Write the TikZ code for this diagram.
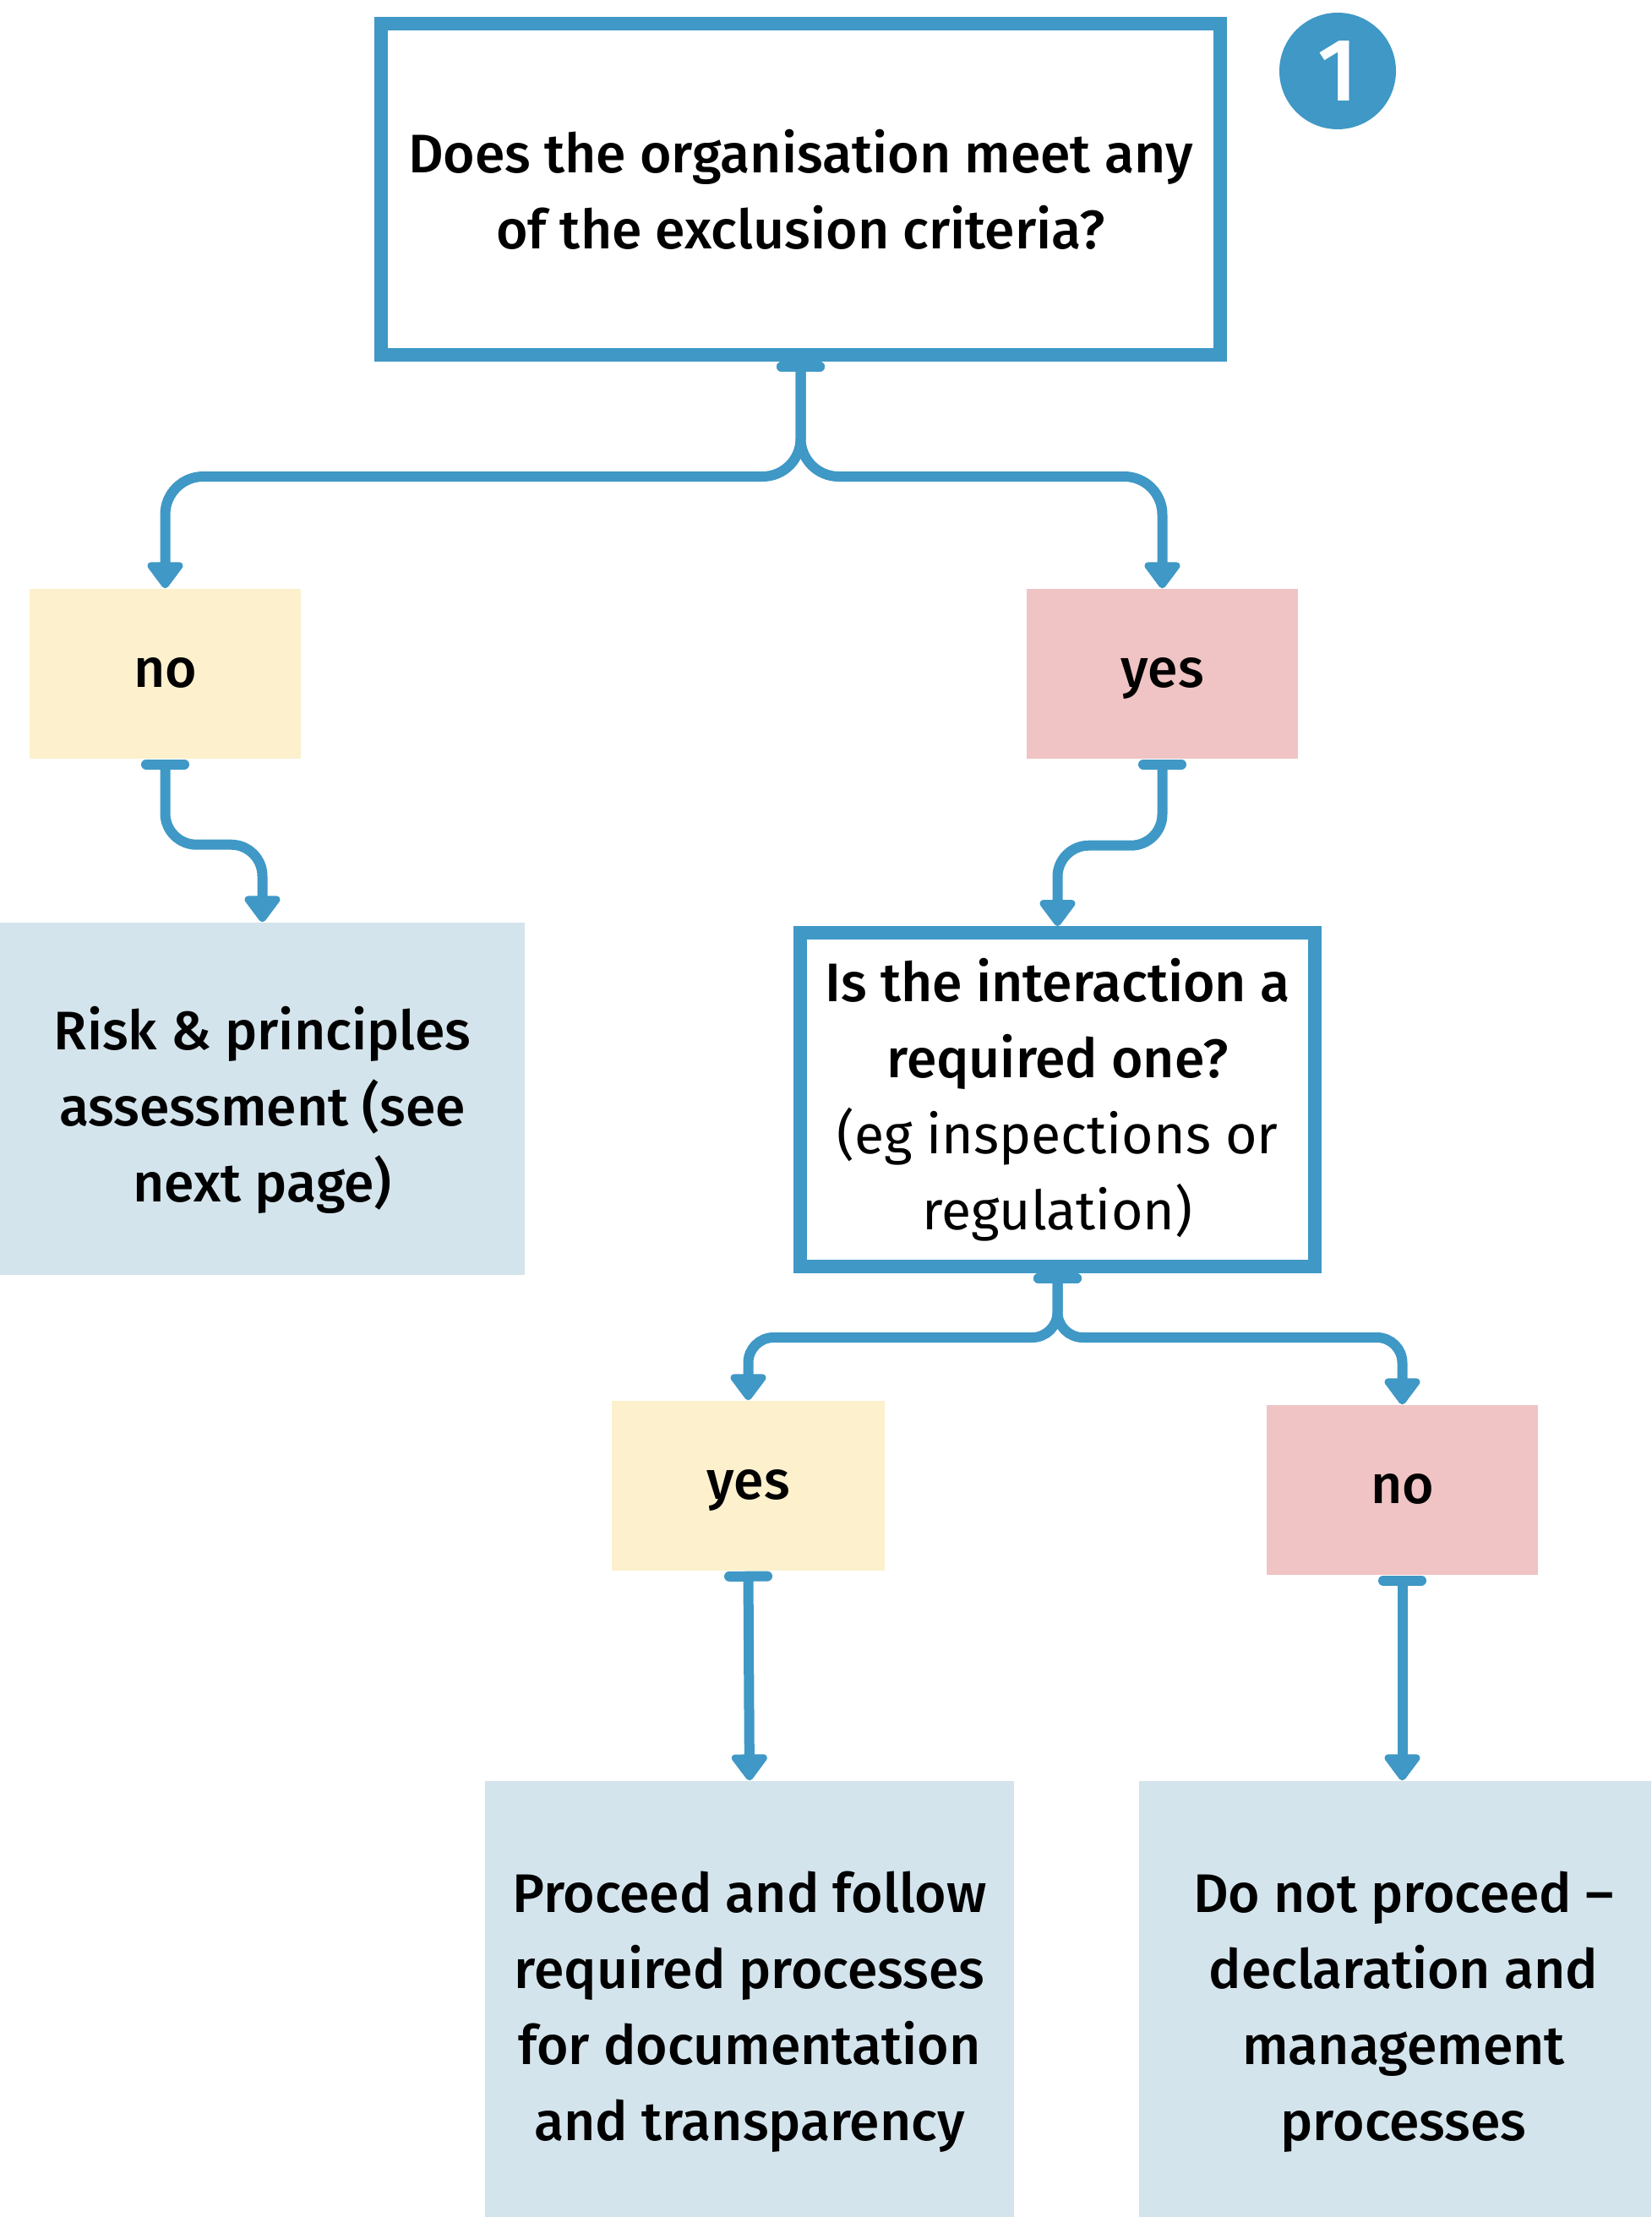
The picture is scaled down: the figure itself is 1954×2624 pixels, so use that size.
\documentclass[tikz,border=0pt]{standalone}
\usepackage{fontspec}
\setmainfont{Fira Sans}[BoldFont={Fira Sans Medium}]
\usetikzlibrary{arrows.meta}

\definecolor{flowblue}{HTML}{3F98C5}
\definecolor{noyellow}{HTML}{FCF0CD}
\definecolor{yespink}{HTML}{F0C4C4}
\definecolor{outcomeblue}{HTML}{D4E4EC}

\newcommand{\boxfont}{\fontsize{18.3}{25.6}\selectfont}

\tikzset{
    question/.style={draw=flowblue, line width=1.6mm, fill=white, align=center, inner sep=0pt, font=\boxfont},
    answer/.style={minimum width=32.1mm, minimum height=20.1mm, inner sep=0pt, text height=2.2ex, text depth=0.5ex, font=\boxfont\bfseries},
    outcome/.style={fill=outcomeblue, inner sep=0pt},
    outcometext/.style={align=center, inner sep=0pt, font=\boxfont\bfseries},
    flow/.style={draw=flowblue, line width=1.2mm, arrows={Bar[width=4.5mm,round]-Triangle[width=4.8mm,length=3.4mm,round]}}
}

\begin{document}
\begin{tikzpicture}[x=0.1mm, y=-0.1mm]
            \useasboundingbox (0,0) rectangle (1954,2624);

            \node[question, minimum width=99.3mm, minimum height=39.2mm, font=\boxfont\bfseries] (q1) at (947.5,224)
                {Does the organisation meet any\\of the exclusion criteria?};
            \node[circle, fill=flowblue, minimum size=13.8mm, inner sep=0pt, text=white, font=\fontsize{30}{30}\selectfont\bfseries] (num) at (1583,84) {1};

            \node[answer, fill=noyellow] (no1) at (195.5,797.5) {no};
            \node[answer, fill=yespink] (yes1) at (1375.5,797.5) {yes};

            \node[outcome, minimum width=62.1mm, minimum height=41.7mm] (risk) at (310.5,1300.5) {};
            \node[outcometext] (risktext) at ([yshift=-1.3mm]risk.center)
                {Risk \& principles\\assessment (see\\next page)};
            \node[question, minimum width=60.9mm, minimum height=39.5mm] (q2) at (1251.5,1301.5)
                {\textbf{Is the interaction a}\\\textbf{required one?}\\(eg inspections or\\regulation)};

            \node[answer, fill=noyellow, minimum width=32.3mm] (yes2) at (885.5,1758.5) {yes};
            \node[answer, fill=yespink] (no2) at (1659.5,1763.5) {no};

            \node[outcome, minimum width=62.6mm, minimum height=52.6mm] (follow) at (887,2371) {};
            \node[outcometext] (followtext) at ([yshift=-1mm]follow.center)
                {Proceed and follow\\required processes\\for documentation\\and transparency};
            \node[outcome, minimum width=60.6mm, minimum height=52.6mm] (stop) at (1651,2371) {};
            \node[outcometext] (stoptext) at ([xshift=1mm, yshift=-1mm]stop.center)
                {Do not proceed --\\declaration and\\management\\processes};

            \coordinate (split1) at (q1.south |- 0,564);
            \coordinate (split2) at (q2.south |- 0,1583);

            \draw[flow, rounded corners=4.5mm] (q1.south) -- (split1) -| (no1.north);
            \draw[flow, rounded corners=4.5mm] (q1.south) -- (split1) -| (yes1.north);
            \draw[flow, rounded corners=3.7mm] (no1.south) -- ++(0,101) -| (risk.north);
            \draw[flow, rounded corners=3.7mm] (yes1.south) -- ++(0,102) -| (q2.north);
            \draw[flow, rounded corners=3mm] (q2.south) -- (split2) -| (yes2.north);
            \draw[flow, rounded corners=3mm] (q2.south) -- (split2) -| (no2.north);
            \draw[flow] (yes2.south) -- (follow.north);
            \draw[flow] (no2.south) -- (no2.south |- stop.north);
        \end{tikzpicture}
\end{document}
